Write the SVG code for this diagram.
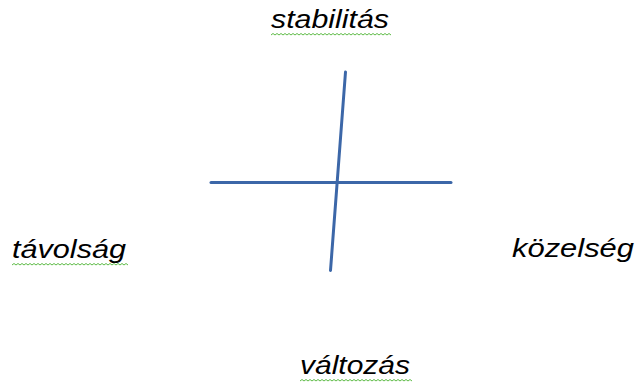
<svg xmlns="http://www.w3.org/2000/svg" width="635" height="385" viewBox="0 0 635 385">
<defs>
<style>
.lbl{font-family:"Liberation Sans",Arial,sans-serif;font-style:italic;font-size:26px;fill:#000}
.axis{stroke:#3C67A8;stroke-width:3;stroke-linecap:round;fill:none}
.wave{stroke:#5DBB46;stroke-width:1;fill:none}
</style>
</defs>
<rect width="635" height="385" fill="#fff"/>
<g id="connectors">
<line class="axis" x1="211" y1="182.5" x2="451" y2="182.5"/>
<line class="axis" x1="345.5" y1="72" x2="330.5" y2="270.5"/>
</g>
<g id="node-stabilitas">
<text class="lbl" x="271" y="28" textLength="118" lengthAdjust="spacingAndGlyphs">stabilitás</text>
<path class="wave" d="M271,35 l2,-1.5 l2,1.5 l2,-1.5 l2,1.5 l2,-1.5 l2,1.5 l2,-1.5 l2,1.5 l2,-1.5 l2,1.5 l2,-1.5 l2,1.5 l2,-1.5 l2,1.5 l2,-1.5 l2,1.5 l2,-1.5 l2,1.5 l2,-1.5 l2,1.5 l2,-1.5 l2,1.5 l2,-1.5 l2,1.5 l2,-1.5 l2,1.5 l2,-1.5 l2,1.5 l2,-1.5 l2,1.5 l2,-1.5 l2,1.5 l2,-1.5 l2,1.5 l2,-1.5 l2,1.5 l2,-1.5 l2,1.5 l2,-1.5 l2,1.5 l2,-1.5 l2,1.5 l2,-1.5 l2,1.5 l2,-1.5 l2,1.5 l2,-1.5 l2,1.5 l2,-1.5 l2,1.5 l2,-1.5 l2,1.5 l2,-1.5 l2,1.5 l2,-1.5 l2,1.5 l2,-1.5 l2,1.5 l2,-1.5 l2,1.5"/>
</g>
<g id="node-tavolsag">
<text class="lbl" x="12" y="258" textLength="114" lengthAdjust="spacingAndGlyphs">távolság</text>
<path class="wave" d="M12,265 l2,-1.5 l2,1.5 l2,-1.5 l2,1.5 l2,-1.5 l2,1.5 l2,-1.5 l2,1.5 l2,-1.5 l2,1.5 l2,-1.5 l2,1.5 l2,-1.5 l2,1.5 l2,-1.5 l2,1.5 l2,-1.5 l2,1.5 l2,-1.5 l2,1.5 l2,-1.5 l2,1.5 l2,-1.5 l2,1.5 l2,-1.5 l2,1.5 l2,-1.5 l2,1.5 l2,-1.5 l2,1.5 l2,-1.5 l2,1.5 l2,-1.5 l2,1.5 l2,-1.5 l2,1.5 l2,-1.5 l2,1.5 l2,-1.5 l2,1.5 l2,-1.5 l2,1.5 l2,-1.5 l2,1.5 l2,-1.5 l2,1.5 l2,-1.5 l2,1.5 l2,-1.5 l2,1.5 l2,-1.5 l2,1.5 l2,-1.5 l2,1.5 l2,-1.5 l2,1.5 l2,-1.5 l2,1.5"/>
</g>
<g id="node-kozelseg">
<text class="lbl" x="512" y="257" textLength="122" lengthAdjust="spacingAndGlyphs">közelség</text>
</g>
<g id="node-valtozas">
<text class="lbl" x="300" y="374" textLength="110" lengthAdjust="spacingAndGlyphs">változás</text>
<path class="wave" d="M300,381 l2,-1.5 l2,1.5 l2,-1.5 l2,1.5 l2,-1.5 l2,1.5 l2,-1.5 l2,1.5 l2,-1.5 l2,1.5 l2,-1.5 l2,1.5 l2,-1.5 l2,1.5 l2,-1.5 l2,1.5 l2,-1.5 l2,1.5 l2,-1.5 l2,1.5 l2,-1.5 l2,1.5 l2,-1.5 l2,1.5 l2,-1.5 l2,1.5 l2,-1.5 l2,1.5 l2,-1.5 l2,1.5 l2,-1.5 l2,1.5 l2,-1.5 l2,1.5 l2,-1.5 l2,1.5 l2,-1.5 l2,1.5 l2,-1.5 l2,1.5 l2,-1.5 l2,1.5 l2,-1.5 l2,1.5 l2,-1.5 l2,1.5 l2,-1.5 l2,1.5 l2,-1.5 l2,1.5 l2,-1.5 l2,1.5 l2,-1.5 l2,1.5 l2,-1.5 l2,1.5"/>
</g>
</svg>
